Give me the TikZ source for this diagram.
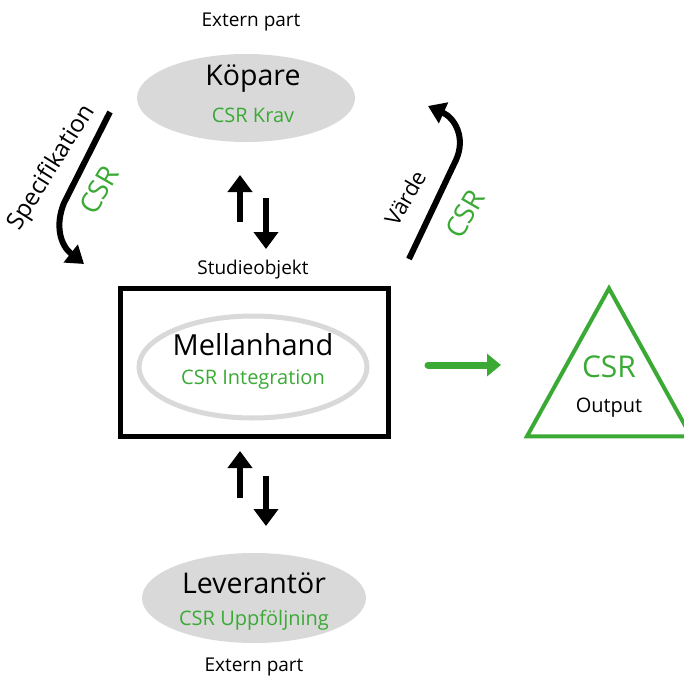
\documentclass[tikz,border=0pt]{standalone}
\usepackage{fontspec}
\setmainfont{Open Sans}
\usetikzlibrary{positioning, arrows.meta, calc, shapes.geometric}

\definecolor{csrgreen}{RGB}{58,170,53}
\definecolor{partgray}{RGB}{217,217,217}

\tikzset{
    extpart/.style={ellipse, fill=partgray, minimum width=218pt, minimum height=88pt, inner sep=0pt},
    bigname/.style={font=\fontsize{28.5}{32}\selectfont},
    csrtext/.style={text=csrgreen, font=\fontsize{20}{24}\selectfont},
    smalltext/.style={font=\fontsize{19}{22}\selectfont},
    flowarrow/.style={line width=6.5pt, -{Triangle[width=24pt,length=17pt]}},
    bendarrow/.style={line width=6pt, -{Triangle[width=22pt,length=17pt]}}
}

\begin{document}
\begin{tikzpicture}[x=1pt, y=-1pt]
    \useasboundingbox (0,0) rectangle (684,680);
    % Köpare (top)
    \node[smalltext] (extTop) at (251,22) {Extern part};
    \node[extpart] (kopare) at (246,98) {};
    \node[bigname] (kopName) at (253,79) {Köpare};
    \node[csrtext] (kopCsr) at (253,115) {CSR Krav};
    % studieobjekt box
    \node[smalltext] (studie) at (253,270) {Studieobjekt};
    \node[draw, line width=5pt, minimum width=268pt, minimum height=148pt, inner sep=0pt] (box) at (254.5,362) {};
    \node[ellipse, draw=partgray, line width=5pt, minimum width=228pt, minimum height=102pt] (mellan) at (253,367) {};
    \node[font=\fontsize{29}{32}\selectfont] (melName) at (253,345) {Mellanhand};
    \node[csrtext] (melCsr) at (253,380) {CSR Integration};
    % Leverantör (bottom)
    \node[extpart, minimum width=224pt, minimum height=90pt] (lev) at (254,598) {};
    \node[bigname] (levName) at (254,583) {Leverantör};
    \node[csrtext] (levCsr) at (254,620) {CSR Uppföljning};
    \node[smalltext] (extBot) at (254,667) {Extern part};
    % output triangle
    \node[draw=csrgreen, line width=4pt, isosceles triangle, isosceles triangle apex angle=58, shape border rotate=90, minimum width=164pt, inner sep=0pt] (output) at (609,388) {};
    \node[text=csrgreen, font=\fontsize{30}{34}\selectfont] (outCsr) at (609,367) {CSR};
    \node[font=\fontsize{20}{24}\selectfont] (outText) at (609,408) {Output};

    % up/down arrows between parts and box
    \coordinate (topUpA) at (240,222);
    \coordinate (topUpB) at (240,175);
    \coordinate (topDnA) at (266,198);
    \coordinate (topDnB) at (266,249);
    \coordinate (botUpA) at (240,498);
    \coordinate (botUpB) at (240,451);
    \coordinate (botDnA) at (266,476);
    \coordinate (botDnB) at (266,526);
    \draw[flowarrow] (topUpA) -- (topUpB);
    \draw[flowarrow] (topDnA) -- (topDnB);
    \draw[flowarrow] (botUpA) -- (botUpB);
    \draw[flowarrow] (botDnA) -- (botDnB);

    % green arrow to output
    \coordinate (toOut) at (501,365);
    \draw[line width=7pt, line cap=round, csrgreen, -{Triangle[width=22pt,length=14pt]}] (428,365) -- (toOut);

    % specifikation arrow (left)
    \coordinate (specA) at (110,112);
    \coordinate (specB) at (84,264);
    \draw[bendarrow] (specA) -- (64,203) .. controls (55,225) and (60,245) .. (specB);
    \node[rotate=58, font=\fontsize{24}{28}\selectfont] (specText) at (52,168) {Specifikation};
    \node[rotate=60, text=csrgreen, font=\fontsize{28}{32}\selectfont] (specCsr) at (99,190) {CSR};

    % värde arrow (right)
    \coordinate (vardeA) at (409,259);
    \coordinate (vardeB) at (428,106);
    \draw[bendarrow] (vardeA) -- (456,160) .. controls (466,138) and (455,118) .. (vardeB);
    \node[rotate=60, font=\fontsize{22}{26}\selectfont] (vardeText) at (405,198) {Värde};
    \node[rotate=60, text=csrgreen, font=\fontsize{28}{32}\selectfont] (vardeCsr) at (465,214) {CSR};
\end{tikzpicture}
\end{document}
